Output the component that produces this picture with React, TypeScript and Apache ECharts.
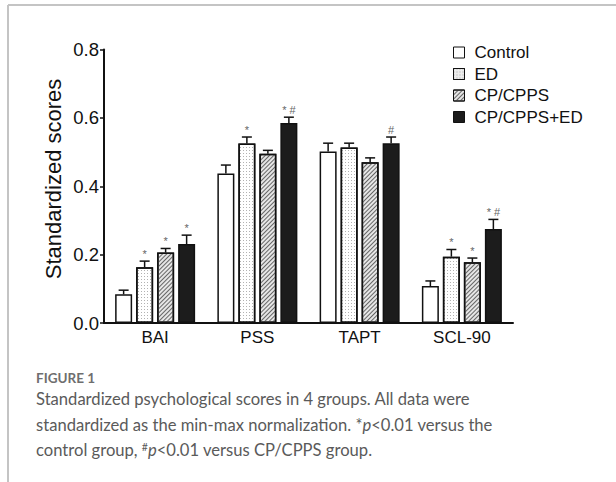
import React, { useEffect, useRef } from "react";
import * as echarts from "echarts";

const categories = ["BAI", "PSS", "TAPT", "SCL-90"];
const groups = ["Control", "ED", "CP/CPPS", "CP/CPPS+ED"];
const controlMean = [0.084, 0.437, 0.502, 0.108];
const controlErr = [0.012, 0.025, 0.024, 0.015];
const edMean = [0.163, 0.525, 0.513, 0.194];
const edErr = [0.018, 0.019, 0.013, 0.021];
const cpMean = [0.206, 0.495, 0.47, 0.178];
const cpErr = [0.012, 0.01, 0.013, 0.012];
const cpEdMean = [0.231, 0.585, 0.526, 0.275];
const cpEdErr = [0.026, 0.017, 0.018, 0.028];
const controlMarks = ["", "", "", ""];
const edMarks = ["*", "*", "", "*"];
const cpMarks = ["*", "", "", "*"];
const cpEdMarks = ["*", "* #", "#", "* #"];
const yTicks = [0, 0.2, 0.4, 0.6, 0.8];

const FONT = "'Liberation Sans', Arial, sans-serif";
const CAP_FONT = "Lato, 'Open Sans', sans-serif";
const BAR_W = 17;
const BAR_GAP = 4;

export default function App() {
  const ref = useRef<HTMLDivElement>(null);
  useEffect(() => {
    if (!ref.current) return;
    const chart = echarts.init(ref.current, undefined, { renderer: "svg" });
    const means = [controlMean, edMean, cpMean, cpEdMean];
    const errs = [controlErr, edErr, cpErr, cpEdErr];
    const marks = [controlMarks, edMarks, cpMarks, cpEdMarks];
    const dotDecal = {
      symbol: "rect",
      symbolSize: 1,
      dashArrayX: [1, 2],
      dashArrayY: [1, 2],
      color: "rgba(0,0,0,0.3)",
      backgroundColor: "#ffffff",
    };
    const hatchDecal = {
      symbol: "rect",
      symbolSize: 1,
      dashArrayX: [1, 0],
      dashArrayY: [1, 2],
      rotation: -Math.PI / 4,
      color: "#666",
      backgroundColor: "#e6e6e6",
    };
    const styles: any[] = [
      { color: "#ffffff", borderColor: "#111", borderWidth: 1.5 },
      { color: "#ffffff", borderColor: "#111", borderWidth: 1.5, decal: dotDecal },
      { color: "#e6e6e6", borderColor: "#111", borderWidth: 1.5, decal: hatchDecal },
      { color: "#1c1c1c", borderColor: "#111", borderWidth: 1.5 },
    ];
    const legendColors = ["#ffffff", "#ececec", "#e6e6e6", "#1c1c1c"];
    const barSeries = groups.map((g, s) => ({
      name: g,
      type: "bar",
      data: means[s],
      barWidth: BAR_W,
      barGap: (BAR_GAP / BAR_W) * 100 + "%",
      itemStyle: styles[s],
      emphasis: { disabled: true },
      z: 2,
    }));
    const errData: any[] = [];
    groups.forEach((g, s) => {
      categories.forEach((c, i) => {
        errData.push([i, s, means[s][i], means[s][i] + errs[s][i], marks[s][i]]);
      });
    });
    const errSeries = {
      type: "custom",
      data: errData,
      encode: { x: 0, y: 3 },
      z: 5,
      silent: true,
      renderItem: (params: any, api: any) => {
        const i = api.value(0);
        const s = api.value(1);
        const mean = api.value(2);
        const upper = api.value(3);
        const mark = errData[params.dataIndex][4];
        const total = 4 * BAR_W + 3 * BAR_GAP;
        const cx = api.coord([i, 0])[0] - total / 2 + s * (BAR_W + BAR_GAP) + BAR_W / 2;
        const yTop = api.coord([i, mean])[1];
        const yErr = api.coord([i, upper])[1];
        const children: any[] = [
          { type: "line", shape: { x1: cx, y1: yTop, x2: cx, y2: yErr }, style: { stroke: "#111", lineWidth: 1.5 } },
          { type: "line", shape: { x1: cx - 5, y1: yErr, x2: cx + 5, y2: yErr }, style: { stroke: "#111", lineWidth: 1.5 } },
        ];
        if (mark) {
          children.push({
            type: "text",
            x: cx,
            y: yErr - 1.5,
            style: {
              text: mark,
              fontSize: 11,
              fontFamily: FONT,
              fill: "#666",
              align: "center",
              verticalAlign: "bottom",
            },
          });
        }
        return { type: "group", children };
      },
    };
    const capStyle = { fontSize: 16.6, fontFamily: CAP_FONT, fill: "#5a5a5a" };
    const rich = {
      i: { fontStyle: "italic", fontSize: 16.6, fontFamily: CAP_FONT, color: "#5a5a5a" },
      sup: { fontSize: 10.5, fontFamily: CAP_FONT, color: "#5a5a5a", verticalAlign: "top", padding: [0, 0, 6, 0] },
    };
    chart.setOption({
      animation: false,
      backgroundColor: "#ffffff",
      grid: { left: 104, right: 103, top: 49.5, bottom: 159, containLabel: false },
      legend: {
        data: groups.map((g, s) => ({ name: g, itemStyle: { color: legendColors[s], borderColor: "#111", borderWidth: 1 } })),
        orient: "vertical",
        left: 453,
        top: 44,
        padding: 0,
        itemWidth: 11,
        itemHeight: 11,
        itemGap: 4.5,
        icon: "rect",
        textStyle: { fontSize: 17, fontFamily: FONT, color: "#111", lineHeight: 17, padding: [0, 0, 0, 5] },
        itemStyle: { borderWidth: 1 },
        selectedMode: false,
      },
      xAxis: {
        type: "category",
        data: categories,
        axisLine: { lineStyle: { color: "#111", width: 2 } },
        axisTick: { alignWithLabel: true, length: 3, lineStyle: { color: "#111", width: 1 } },
        axisLabel: { fontSize: 17, fontFamily: FONT, color: "#111", margin: 6 },
      },
      yAxis: {
        type: "value",
        min: yTicks[0],
        max: yTicks[yTicks.length - 1],
        interval: 0.2,
        splitLine: { show: false },
        axisLine: { show: true, lineStyle: { color: "#111", width: 2 } },
        axisTick: { show: true, length: 4, lineStyle: { color: "#111", width: 1.5 } },
        axisLabel: { fontSize: 18.5, fontFamily: FONT, color: "#111", margin: 5, formatter: (v: number) => v.toFixed(1) },
      },
      series: [...barSeries, errSeries],
      graphic: [
        { type: "line", shape: { x1: 8, y1: 5, x2: 616, y2: 5 }, style: { stroke: "#c4c4c4", lineWidth: 2 } },
        { type: "line", shape: { x1: 8, y1: 5, x2: 8, y2: 482 }, style: { stroke: "#c4c4c4", lineWidth: 2 } },
        {
          type: "text",
          x: 53,
          y: 179,
          rotation: Math.PI / 2,
          style: { text: "Standardized scores", fontSize: 22, fontFamily: FONT, fill: "#111", align: "center", verticalAlign: "middle" },
        },
        {
          type: "text",
          x: 36,
          y: 378,
          style: { text: "FIGURE 1", fontSize: 13.5, fontWeight: "bold", fontFamily: CAP_FONT, fill: "#6e6e6e", verticalAlign: "middle" },
        },
        {
          type: "text",
          x: 36,
          y: 399,
          style: { ...capStyle, text: "Standardized psychological scores in 4 groups. All data were", verticalAlign: "middle" },
        },
        {
          type: "text",
          x: 36,
          y: 425,
          style: { ...capStyle, text: "standardized as the min-max normalization. *{i|p}<0.01 versus the", rich, verticalAlign: "middle" },
        },
        {
          type: "text",
          x: 36,
          y: 450,
          style: { ...capStyle, text: "control group, {sup|#}{i|p}<0.01 versus CP/CPPS group.", rich, verticalAlign: "middle" },
        },
      ],
    });
    return () => chart.dispose();
  }, []);
  return <div ref={ref} style={{ position: "absolute", left: 0, top: 0, width: 616, height: 482 }} />;
}
